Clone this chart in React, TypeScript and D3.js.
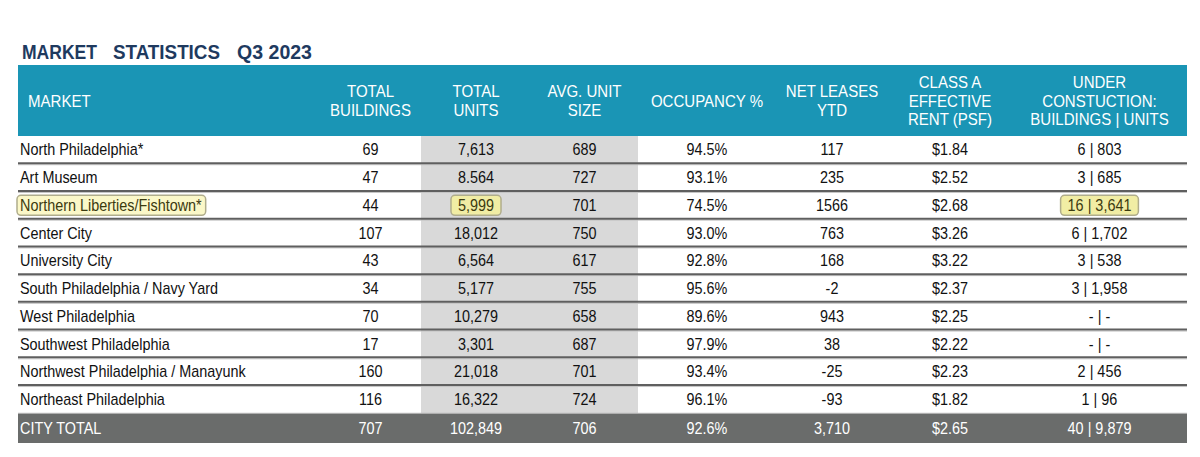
import React, { useEffect, useRef } from "react";
import * as d3 from "d3";

const titleWords = ["MARKET", "STATISTICS", "Q3 2023"];
const headers = [
  ["MARKET"],
  ["TOTAL", "BUILDINGS"],
  ["TOTAL", "UNITS"],
  ["AVG. UNIT", "SIZE"],
  ["OCCUPANCY %"],
  ["NET LEASES", "YTD"],
  ["CLASS A", "EFFECTIVE", "RENT (PSF)"],
  ["UNDER", "CONSTUCTION:", "BUILDINGS | UNITS"],
];
const markets = [
  "North Philadelphia*",
  "Art Museum",
  "Northern Liberties/Fishtown*",
  "Center City",
  "University City",
  "South Philadelphia / Navy Yard",
  "West Philadelphia",
  "Southwest Philadelphia",
  "Northwest Philadelphia / Manayunk",
  "Northeast Philadelphia",
];
const totalBuildings = ["69", "47", "44", "107", "43", "34", "70", "17", "160", "116"];
const totalUnits = ["7,613", "8.564", "5,999", "18,012", "6,564", "5,177", "10,279", "3,301", "21,018", "16,322"];
const avgUnitSize = ["689", "727", "701", "750", "617", "755", "658", "687", "701", "724"];
const occupancy = ["94.5%", "93.1%", "74.5%", "93.0%", "92.8%", "95.6%", "89.6%", "97.9%", "93.4%", "96.1%"];
const netLeases = ["117", "235", "1566", "763", "168", "-2", "943", "38", "-25", "-93"];
const classARent = ["$1.84", "$2.52", "$2.68", "$3.26", "$3.22", "$2.37", "$2.25", "$2.22", "$2.23", "$1.82"];
const underConstruction = ["6 | 803", "3 | 685", "16 | 3,641", "6 | 1,702", "3 | 538", "3 | 1,958", "- | -", "- | -", "2 | 456", "1 | 96"];
const cityTotal = ["CITY TOTAL", "707", "102,849", "706", "92.6%", "3,710", "$2.65", "40 | 9,879"];
const highlighted = [
  { row: "Northern Liberties/Fishtown*", col: 0 },
  { row: "Northern Liberties/Fishtown*", col: 2 },
  { row: "Northern Liberties/Fishtown*", col: 7 },
];

const W = 1200;
const H = 457;
const colEdges = [18, 320, 421, 531, 638, 776, 888, 1012, 1187];
const titleX = [22, 113, 237];
const titleW = [75, 107, 75];
const FONT = "'Liberation Sans', Arial, Helvetica, sans-serif";
const BODY_SIZE = 16;
const BODY_SX = 0.9;
const HEAD_SIZE = 16;
const HEAD_SX = 0.94;

export default function App() {
  const ref = useRef<SVGSVGElement>(null);
  useEffect(() => {
    const svg = d3.select(ref.current);
    svg.selectAll("*").remove();

    const rows = markets.map((m, i) => [
      m,
      totalBuildings[i],
      totalUnits[i],
      avgUnitSize[i],
      occupancy[i],
      netLeases[i],
      classARent[i],
      underConstruction[i],
    ]);

    const y = d3
      .scaleBand<string>()
      .domain([...markets, "__total"])
      .range([136, 441])
      .paddingInner(0);

    const cx = (c: number) => (colEdges[c] + colEdges[c + 1]) / 2;
    const left = colEdges[0];
    const right = colEdges[colEdges.length - 1];

    const addText = (
      x: number,
      yy: number,
      txt: string,
      anchor: string,
      size: number,
      sx: number,
      fill: string
    ) =>
      svg
        .append("text")
        .attr("transform", `translate(${x},${yy}) scale(${sx},1)`)
        .attr("dy", "0.35em")
        .attr("text-anchor", anchor)
        .attr("font-family", FONT)
        .attr("font-size", size)
        .attr("fill", fill)
        .text(txt);

    // title
    titleWords.forEach((w, i) => {
      svg
        .append("text")
        .attr("x", titleX[i])
        .attr("y", 59)
        .attr("fill", "#1e3a5f")
        .attr("font-family", FONT)
        .attr("font-weight", "bold")
        .attr("font-size", 21)
        .attr("textLength", titleW[i])
        .attr("lengthAdjust", "spacingAndGlyphs")
        .text(w);
    });

    // header band
    svg.append("rect").attr("x", left).attr("y", 65).attr("width", right - left).attr("height", 71).attr("fill", "#1a95b5");

    headers.forEach((lines, c) => {
      const lh = 18.5;
      const startY = 101 - ((lines.length - 1) * lh) / 2;
      lines.forEach((ln, k) => {
        addText(c === 0 ? 28 : cx(c), startY + k * lh, ln, c === 0 ? "start" : "middle", HEAD_SIZE, HEAD_SX, "#ffffff");
      });
    });

    // grey column band
    svg
      .append("rect")
      .attr("x", colEdges[2])
      .attr("y", y(markets[0])!)
      .attr("width", colEdges[4] - colEdges[2])
      .attr("height", y("__total")! - y(markets[0])!)
      .attr("fill", "#d9d9d9");

    // total row
    svg
      .append("rect")
      .attr("x", left)
      .attr("y", y("__total")!)
      .attr("width", right - left)
      .attr("height", y.bandwidth() + 2)
      .attr("fill", "#6a6c6b");

    // separators
    markets.slice(1).forEach((m) => {
      const ly = y(m)!;
      svg
        .append("line")
        .attr("x1", left)
        .attr("x2", right)
        .attr("y1", ly + 1)
        .attr("y2", ly + 1)
        .attr("stroke", "#c4c4c4")
        .attr("stroke-width", 1);
      svg
        .append("line")
        .attr("x1", left)
        .attr("x2", right)
        .attr("y1", ly - 0.5)
        .attr("y2", ly - 0.5)
        .attr("stroke", "#5f5f5f")
        .attr("stroke-width", 2);
    });
    svg
      .append("line")
      .attr("x1", left)
      .attr("x2", right)
      .attr("y1", y("__total")!)
      .attr("y2", y("__total")!)
      .attr("stroke", "#b8b8b8")
      .attr("stroke-width", 1);

    // highlights
    highlighted.forEach((h) => {
      const yy = y(h.row)! + y.bandwidth() / 2;
      const tmp = svg
        .append("text")
        .attr("font-family", FONT)
        .attr("font-size", BODY_SIZE)
        .text(rows[markets.indexOf(h.row)][h.col]);
      const w = (tmp.node() as SVGTextElement).getComputedTextLength() * BODY_SX;
      tmp.remove();
      const x0 = h.col === 0 ? 20 - 3 : cx(h.col) - w / 2 - 7;
      svg
        .append("rect")
        .attr("x", x0)
        .attr("y", yy - 10)
        .attr("width", w + (h.col === 0 ? 7 : 14))
        .attr("height", 20)
        .attr("rx", 4)
        .attr("fill", h.col === 0 ? "#fbf8c8" : "#f1eda4")
        .attr("stroke", "#b0ad8c")
        .attr("stroke-width", 1.5);
    });

    const isHl = (r: string, c: number) => highlighted.some((h) => h.row === r && h.col === c);

    rows.forEach((row) => {
      const yy = y(row[0])! + y.bandwidth() / 2;
      row.forEach((v, c) => {
        addText(
          c === 0 ? 20 : cx(c),
          yy,
          v,
          c === 0 ? "start" : "middle",
          BODY_SIZE,
          BODY_SX,
          isHl(row[0], c) ? "#3b3a10" : "#111111"
        );
      });
    });

    const ty = y("__total")! + y.bandwidth() / 2 + 1;
    cityTotal.forEach((v, c) => {
      addText(c === 0 ? 20 : cx(c), ty, v, c === 0 ? "start" : "middle", BODY_SIZE, BODY_SX, "#ffffff");
    });
  }, []);

  return (
    <svg
      ref={ref}
      width={W}
      height={H}
      style={{ position: "absolute", left: 0, top: 0, background: "#ffffff" }}
    />
  );
}
